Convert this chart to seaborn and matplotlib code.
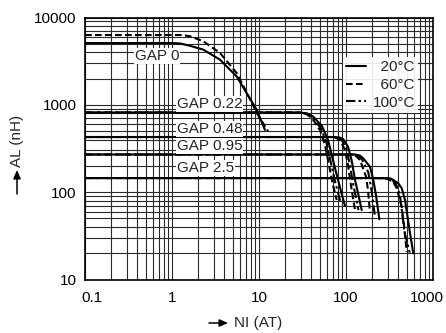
import matplotlib
matplotlib.use("Agg")
import matplotlib.pyplot as plt
import matplotlib.transforms as mtrans
from matplotlib.lines import Line2D
from matplotlib.ticker import LogLocator, NullFormatter
import pandas as pd
import seaborn as sns

# ---------------- data ----------------
temps = ["20°C", "60°C", "100°C"]
temp_labels = ["  20°C", "  60°C", "100°C"]

gap_labels = ["GAP 0", "GAP 0.22", "GAP 0.48", "GAP 0.95", "GAP 2.5"]
gap_label_x = [0.376, 1.14, 1.14, 1.14, 1.14]
gap_label_y = [3620, 1020, 528, 337, 189]

# GAP 0
g0_20_x = [0.1, 1.0, 1.24, 1.6, 2.29, 3.56, 5.54, 7.22, 9.42, 11.7]
g0_20_y = [5100, 5100, 5040, 4750, 4285, 3290, 2113, 1362, 877, 516]
g0_60_x = [0.1, 1.3, 1.61, 2.29, 3.56, 5.54, 7.25, 9.7, 12.7]
g0_60_y = [6300, 6300, 6100, 5340, 3930, 2313, 1370, 767, 500]

# GAP 0.22
g1_20_x = [0.1, 29.6, 36.0, 41.8, 53.0, 62.1, 70.9, 81.0, 90.0, 97.5]
g1_20_y = [817, 817, 795, 735, 571, 395, 233, 138, 92.7, 69.3]
g1_60_x = [0.1, 29.6, 35.0, 40.6, 50.2, 57.4, 63.8, 70.9, 78.2]
g1_60_y = [817, 817, 785, 706, 514, 347, 204, 120, 81.3]
g1_100_x = [0.1, 29.6, 35.5, 41.0, 51.5, 59.5, 67.0, 75.5, 87.0]
g1_100_y = [817, 817, 790, 720, 540, 370, 218, 128, 75]

# GAP 0.48
g2_20_x = [0.1, 74.8, 85.0, 92.5, 105.5, 116, 127, 139, 151.5]
g2_20_y = [428, 428, 422, 406, 331, 233, 138, 92.7, 62.4]
g2_60_x = [0.1, 65.5, 77.0, 85.3, 97.5, 105.5, 114, 127]
g2_60_y = [428, 428, 418, 395, 303, 204, 120, 62.4]
g2_100_x = [0.1, 70.0, 81.0, 89.0, 101, 110, 120, 139]
g2_100_y = [428, 428, 420, 400, 315, 215, 128, 62.4]

# GAP 0.95
g3_20_x = [0.1, 127, 145, 158, 189, 206, 221, 242]
g3_20_y = [270, 270, 262, 244, 195, 138, 92.7, 48.9]
g3_60_x = [0.1, 111, 130, 145, 170, 179, 189]
g3_60_y = [270, 270, 260, 233, 150, 106, 57.6]
g3_100_x = [0.1, 119, 137, 152, 180, 195, 215]
g3_100_y = [270, 270, 261, 238, 170, 110, 53]

# GAP 2.5
g4_20_x = [0.1, 266, 320, 350, 400, 437, 477, 544, 594]
g4_20_y = [145, 145, 144, 138, 126, 111, 81.3, 34, 19.9]
g4_60_x = [0.1, 233, 300, 350, 383, 437, 464, 499]
g4_60_y = [145, 145, 142, 130, 111, 68, 42, 20.7]
g4_100_x = [0.1, 250, 310, 370, 415, 445, 470, 540]
g4_100_y = [145, 145, 143, 128, 95, 55, 35, 20.3]

curves = [
    ("g0_20", "20°C", g0_20_x, g0_20_y),
    ("g0_60", "60°C", g0_60_x, g0_60_y),
    ("g1_20", "20°C", g1_20_x, g1_20_y),
    ("g1_60", "60°C", g1_60_x, g1_60_y),
    ("g1_100", "100°C", g1_100_x, g1_100_y),
    ("g2_20", "20°C", g2_20_x, g2_20_y),
    ("g2_60", "60°C", g2_60_x, g2_60_y),
    ("g2_100", "100°C", g2_100_x, g2_100_y),
    ("g3_20", "20°C", g3_20_x, g3_20_y),
    ("g3_60", "60°C", g3_60_x, g3_60_y),
    ("g3_100", "100°C", g3_100_x, g3_100_y),
    ("g4_20", "20°C", g4_20_x, g4_20_y),
    ("g4_60", "60°C", g4_60_x, g4_60_y),
    ("g4_100", "100°C", g4_100_x, g4_100_y),
]

x_ticks = [0.1, 1, 10, 100, 1000]
x_tick_labels = ["0.1", "1", "10", "100", "1000"]
y_ticks = [10, 100, 1000, 10000]
y_tick_labels = ["10", "100", "1000", "10000"]

rows = []
for cid, t, xs, ys in curves:
    for xv, yv in zip(xs, ys):
        rows.append({"curve": cid, "temp": t, "NI": xv, "AL": yv})
df = pd.DataFrame(rows)

# ---------------- style ----------------
sns.set_theme(style="white")
plt.rcParams["font.family"] = ["Liberation Sans", "DejaVu Sans"]
plt.rcParams["axes.unicode_minus"] = False

fig = plt.figure(figsize=(4.46, 3.33), dpi=100)
ax = fig.add_axes([85 / 446, 1 - 279.5 / 333, 348 / 446, 262 / 333])

dash_map = {"20°C": "", "60°C": (3.2, 1.6), "100°C": (4.5, 1.5, 1.2, 1.5)}
lw = 1.5

ax.set_xscale("log")
ax.set_yscale("log")
sns.lineplot(data=df, x="NI", y="AL", units="curve", style="temp",
             estimator=None, sort=False, color="black", dashes=dash_map,
             style_order=temps, legend=False, lw=lw, ax=ax, zorder=3)

ax.set_xlim(0.1, 1000)
ax.set_ylim(10, 10000)

ax.set_xticks(x_ticks, x_tick_labels)
ax.set_yticks(y_ticks, y_tick_labels)
ax.xaxis.set_minor_locator(LogLocator(base=10, subs=range(2, 10), numticks=50))
ax.yaxis.set_minor_locator(LogLocator(base=10, subs=range(2, 10), numticks=50))
ax.xaxis.set_minor_formatter(NullFormatter())
ax.yaxis.set_minor_formatter(NullFormatter())
ax.tick_params(which="both", length=0, labelsize=11, colors="black")
ax.tick_params(axis="x", pad=8)
ax.tick_params(axis="y", pad=6)
ax.set_xlabel("")
ax.set_ylabel("")

ax.grid(which="both", color="#2a2a2a", lw=0.8)
for s in ax.spines.values():
    s.set_color("black")
    s.set_linewidth(1.2)

# nudge end tick labels inward like the reference
xl = ax.get_xticklabels()
xl[0].set_transform(xl[0].get_transform() + mtrans.ScaledTranslation(7 / 100, 0, fig.dpi_scale_trans))
xl[-1].set_transform(xl[-1].get_transform() + mtrans.ScaledTranslation(-6 / 100, 0, fig.dpi_scale_trans))

# gap labels
for lab, lx, ly in zip(gap_labels, gap_label_x, gap_label_y):
    ax.text(lx, ly, lab, fontsize=11, ha="left", va="center", zorder=4,
            bbox=dict(facecolor="white", edgecolor="none", pad=0.6))

# legend
handles = [Line2D([], [], color="black", lw=lw, ls="-"),
           Line2D([], [], color="black", lw=lw, dashes=dash_map["60°C"]),
           Line2D([], [], color="black", lw=lw, dashes=dash_map["100°C"])]
leg = ax.legend(handles, temp_labels, loc="upper right",
                bbox_to_anchor=((418 - 85) / 348, (279.5 - 57) / 262),
                fontsize=11, frameon=True, framealpha=0.9, edgecolor="none",
                facecolor="white", fancybox=False, handlelength=1.3,
                handletextpad=0.4, labelspacing=0.25, borderpad=0.2,
                borderaxespad=0)
leg.set_zorder(5)

# axis titles with filled arrows
W, H = 446, 333
fig.text(17 / W, 1 - 141 / H, "AL (nH)", rotation=90, fontsize=11,
         ha="center", va="center")
fig.text(258 / W, 1 - 323 / H, "NI (AT)", fontsize=11,
         ha="center", va="center")
arrow = dict(arrowstyle="-|>,head_length=0.5,head_width=0.22", color="black",
             lw=1.1, shrinkA=0, shrinkB=0)
fig.add_artist(matplotlib.patches.FancyArrowPatch(
    (17 / W, 1 - 194 / H), (17 / W, 1 - 170 / H), transform=fig.transFigure,
    mutation_scale=10, **arrow))
fig.add_artist(matplotlib.patches.FancyArrowPatch(
    (209 / W, 1 - 323 / H), (228 / W, 1 - 323 / H), transform=fig.transFigure,
    mutation_scale=10, **arrow))

fig.savefig("out.png", dpi=100)
